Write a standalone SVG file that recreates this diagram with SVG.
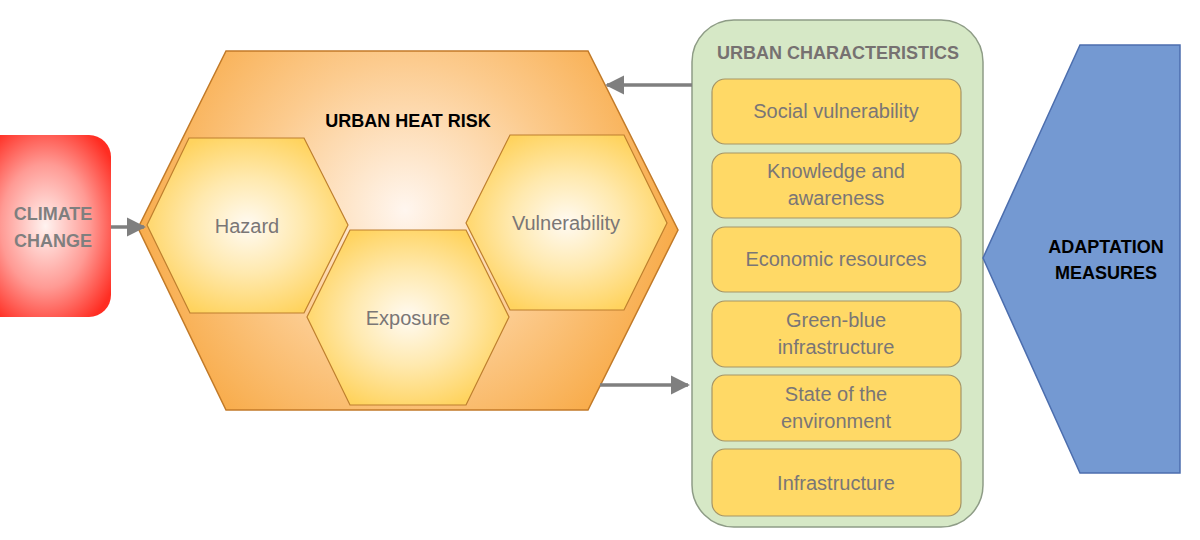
<svg xmlns="http://www.w3.org/2000/svg" width="1200" height="540" viewBox="0 0 1200 540">
<defs>
<radialGradient id="gRed" cx="50%" cy="50%" r="62%">
<stop offset="0" stop-color="#FFF3F0"/>
<stop offset="0.55" stop-color="#FF9A94"/>
<stop offset="1" stop-color="#FF2D22"/>
</radialGradient>
<radialGradient id="gBig" gradientUnits="userSpaceOnUse" cx="405" cy="210" r="300">
<stop offset="0" stop-color="#FFF6EF"/>
<stop offset="0.5" stop-color="#FCCB8E"/>
<stop offset="1" stop-color="#F7A43A"/>
</radialGradient>
<radialGradient id="gHex" cx="50%" cy="50%" r="55%">
<stop offset="0" stop-color="#FFFAF2"/>
<stop offset="0.5" stop-color="#FFE9AE"/>
<stop offset="1" stop-color="#FFD35E"/>
</radialGradient>
<marker id="ah" viewBox="0 0 10 10" refX="9" refY="5" markerWidth="5.5" markerHeight="5.5" orient="auto" markerUnits="strokeWidth">
<path d="M0,0 L10,5 L0,10 z" fill="#7F7F7F"/>
</marker>
<style>
.lbl{font-family:"Liberation Sans",Arial,sans-serif;font-size:20px;fill:#7A7676;text-anchor:middle}
.hd{font-family:"Liberation Sans",Arial,sans-serif;font-size:18px;font-weight:bold;text-anchor:middle}
.hex{fill:url(#gHex);stroke:#BE7F2E;stroke-width:1.2}
.item{fill:#FFD966;stroke:#A59567;stroke-width:1.2}
.conn{stroke:#7F7F7F;stroke-width:3.5;fill:none;marker-end:url(#ah)}
</style>
</defs>

<g id="climate-change">
<rect x="-20" y="135" width="131" height="182" rx="22" fill="url(#gRed)"/>
<text class="hd" x="53" y="220" fill="#7F7F7F">CLIMATE</text>
<text class="hd" x="53" y="247" fill="#7F7F7F">CHANGE</text>
</g>

<g id="urban-heat-risk">
<polygon points="226,51 588,51 678,230 588,410 226,410 138,228" fill="url(#gBig)" stroke="#C27A28" stroke-width="1.5"/>
<text class="hd" x="408" y="127" fill="#000">URBAN HEAT RISK</text>
</g>

<g id="hazard">
<polygon class="hex" points="189,138 304,138 348,225 304,313 190,313 147,225"/>
<text class="lbl" x="247" y="233">Hazard</text>
</g>

<g id="exposure">
<polygon class="hex" points="350,230 466,230 509,317 466,405 350,405 307,317"/>
<text class="lbl" x="408" y="325">Exposure</text>
</g>

<g id="vulnerability">
<polygon class="hex" points="510,135 624,135 667,223 624,310 510,310 466,223"/>
<text class="lbl" x="566" y="230">Vulnerability</text>
</g>

<g id="urban-characteristics">
<rect x="692" y="20" width="291" height="507" rx="42" fill="#D6E8C6" stroke="#8E9C86" stroke-width="1.5"/>
<text class="hd" x="838" y="59" fill="#767171">URBAN CHARACTERISTICS</text>
</g>

<g id="social-vulnerability">
<rect class="item" x="712" y="79" width="249" height="65" rx="13"/>
<text class="lbl" x="836" y="118">Social vulnerability</text>
</g>
<g id="knowledge-awareness">
<rect class="item" x="712" y="153" width="249" height="65" rx="13"/>
<text class="lbl" x="836" y="178">Knowledge and</text>
<text class="lbl" x="836" y="205">awareness</text>
</g>
<g id="economic-resources">
<rect class="item" x="712" y="227" width="249" height="65" rx="13"/>
<text class="lbl" x="836" y="266">Economic resources</text>
</g>
<g id="green-blue-infrastructure">
<rect class="item" x="712" y="301" width="249" height="66" rx="13"/>
<text class="lbl" x="836" y="327">Green-blue</text>
<text class="lbl" x="836" y="354">infrastructure</text>
</g>
<g id="state-environment">
<rect class="item" x="712" y="375" width="249" height="66" rx="13"/>
<text class="lbl" x="836" y="401">State of the</text>
<text class="lbl" x="836" y="428">environment</text>
</g>
<g id="infrastructure">
<rect class="item" x="712" y="449" width="249" height="67" rx="13"/>
<text class="lbl" x="836" y="490">Infrastructure</text>
</g>

<g id="adaptation-measures">
<polygon points="1080,45 1180,45 1180,473 1080,473 983,258" fill="#7499D2" stroke="#4C6EAE" stroke-width="1.5"/>
<text class="hd" x="1106" y="253" fill="#000">ADAPTATION</text>
<text class="hd" x="1106" y="279" fill="#000">MEASURES</text>
</g>

<g id="connectors">
<line class="conn" x1="111" y1="227" x2="144" y2="227"/>
<line class="conn" x1="692" y1="85" x2="607" y2="85"/>
<line class="conn" x1="600" y1="385" x2="688" y2="385"/>
</g>
</svg>
